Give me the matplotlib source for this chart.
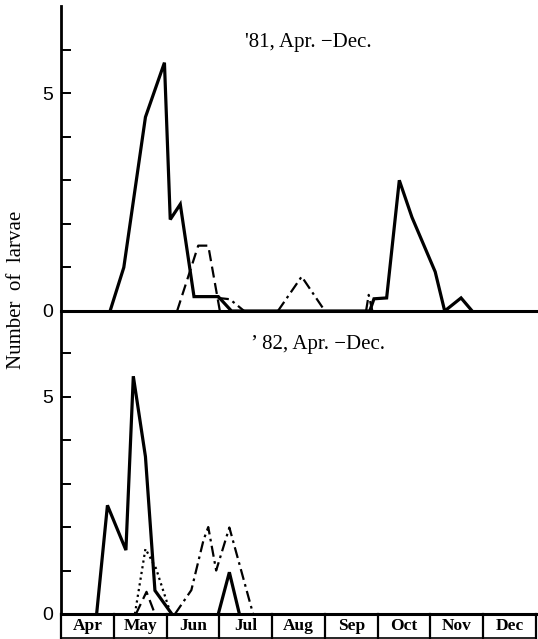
import numpy as np
import matplotlib
matplotlib.use("Agg")
import matplotlib.pyplot as plt
import matplotlib.transforms as mtransforms

# ---------------- data (x = months since 1 April) ----------------
months = ["Apr", "May", "Jun", "Jul", "Aug", "Sep", "Oct", "Nov", "Dec"]

title81 = "'81, Apr. \u2212Dec."
title82 = "\u2019\u200982, Apr. \u2212Dec."

solid81_x = [0.93, 1.19, 1.60, 1.96, 2.07, 2.26, 2.52, 2.98, 3.23,
             5.85, 5.93, 6.17, 6.41, 6.65, 7.09, 7.27, 7.58, 7.79]
solid81_y = [0, 1.0, 4.45, 5.7, 2.1, 2.45, 0.33, 0.33, 0,
             0, 0.28, 0.3, 3.0, 2.15, 0.9, 0, 0.3, 0]

dashed81_x = [2.20, 2.60, 2.79, 3.01]
dashed81_y = [0, 1.5, 1.5, 0]

dashdot81_x = [2.97, 3.2, 3.47, np.nan, 4.11, 4.56, 5.0, np.nan, 5.78, 5.83, 5.9]
dashdot81_y = [0.3, 0.27, 0, np.nan, 0, 0.79, 0, np.nan, 0, 0.37, 0]

solid82_x = [0.675, 0.88, 1.23, 1.37, 1.60, 1.78, 2.10, np.nan, 2.98, 3.19, 3.38]
solid82_y = [0, 2.5, 1.47, 5.47, 3.62, 0.54, 0, np.nan, 0, 0.96, 0]

dotted82_x = [1.40, 1.60, 1.80, 2.08]
dotted82_y = [0, 1.5, 1.05, 0]

dashed82_x = [1.42, 1.62, 1.78]
dashed82_y = [0, 0.51, 0]

dashdot82_x = [2.16, 2.47, 2.70, 2.79, 2.94, 3.19, 3.64]
dashdot82_y = [0, 0.55, 1.7, 2.0, 1.0, 1.99, 0]

# ---------------- figure ----------------
W, H = 538, 639
fig = plt.figure(figsize=(W / 100, H / 100), dpi=100)

left = 61 / W
right = 536 / W
ax1 = fig.add_axes([left, 1 - 311 / H, right - left, 305 / H])
ax2 = fig.add_axes([left, 1 - 614 / H, right - left, 303 / H])

serif = ["Liberation Serif", "DejaVu Serif"]

def style(ax, ylim_top):
    ax.set_xlim(0, 9)
    ax.set_ylim(0, ylim_top)
    for s in ["top", "right"]:
        ax.spines[s].set_visible(False)
    ax.spines["left"].set_linewidth(2.0)
    ax.spines["bottom"].set_linewidth(2.2)
    ax.set_xticks([])
    ax.set_yticks([0, 1, 2, 3, 4, 5, 6])
    ax.set_yticklabels(["0", "", "", "", "", "5", ""])
    ax.tick_params(axis="y", direction="in", length=7, width=1.4,
                   labelsize=14, pad=6)
    for lab in ax.get_yticklabels():
        lab.set_family(["Liberation Sans", "DejaVu Sans"])
    ax.patch.set_alpha(0)

style(ax1, 7.0)
style(ax2, 6.97)

lw = 2.3
dlw = 1.6
ax1.plot(solid81_x, solid81_y, color="black", lw=lw, solid_joinstyle="miter")
ax1.plot(dashed81_x, dashed81_y, color="black", lw=dlw, dashes=(5, 2.5))
ax1.plot(dashdot81_x, dashdot81_y, color="black", lw=dlw, dashes=(5, 2, 1.2, 2))

ax2.plot(solid82_x, solid82_y, color="black", lw=lw, solid_joinstyle="miter")
ax2.plot(dotted82_x, dotted82_y, color="black", lw=dlw, dashes=(1, 1.6))
ax2.plot(dashed82_x, dashed82_y, color="black", lw=dlw, dashes=(5, 2.5))
ax2.plot(dashdot82_x, dashdot82_y, color="black", lw=dlw, dashes=(5, 2, 1.2, 2))

ax1.text(308 / W, 1 - 43 / H, title81, transform=fig.transFigure,
         ha="center", va="center", fontsize=15, family=serif)
ax2.text(318 / W, 1 - 345 / H, title82, transform=fig.transFigure,
         ha="center", va="center", fontsize=15, family=serif)

fig.text(17 / W, 1 - 290 / H, "Number  of  larvae", rotation=90,
         ha="center", va="center", fontsize=15, family=serif)

# month boxes under the lower panel
trans = mtransforms.blended_transform_factory(ax2.transData, ax2.transAxes)
box_h = 24 / 303
for i, m in enumerate(months):
    ax2.plot([i, i], [0, -box_h], color="black", lw=1.6, transform=trans,
             clip_on=False)
    ax2.text(i + 0.5, -box_h / 2, m, transform=trans, ha="center",
             va="center", fontsize=12.5, fontweight="bold", family=serif)
ax2.plot([9, 9], [0, -box_h], color="black", lw=1.6, transform=trans,
         clip_on=False)
ax2.plot([0, 9], [-box_h, -box_h], color="black", lw=1.2, transform=trans,
         clip_on=False)

fig.savefig("out.png", dpi=100)
